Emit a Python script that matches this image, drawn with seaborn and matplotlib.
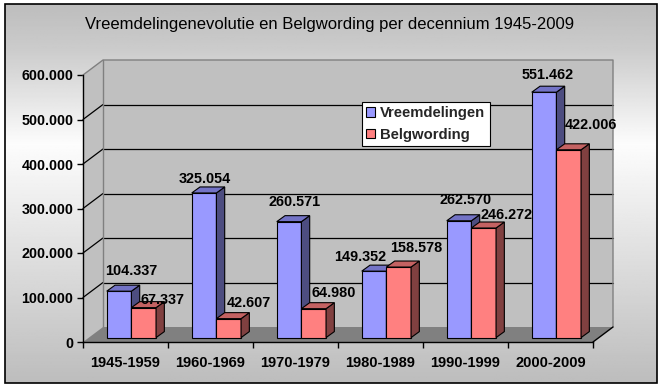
import numpy as np
import pandas as pd
import matplotlib
matplotlib.use("Agg")
import matplotlib.pyplot as plt
import seaborn as sns
from matplotlib.transforms import offset_copy
from matplotlib.patches import Polygon, Rectangle, Patch

# ---------------- data ----------------
periodes = ["1945-1959", "1960-1969", "1970-1979", "1980-1989", "1990-1999", "2000-2009"]
vreemdelingen = [104337, 325054, 260571, 149352, 262570, 551462]
belgwording = [67337, 42607, 64980, 158578, 246272, 422006]
reeksen = ["Vreemdelingen", "Belgwording"]
y_ticks = [0, 100000, 200000, 300000, 400000, 500000, 600000]
y_tick_labels = ["0", "100.000", "200.000", "300.000", "400.000", "500.000", "600.000"]
titel = "Vreemdelingenevolutie en Belgwording per decennium 1945-2009"

# label placement nudges (pixels: right, up) relative to each bar's top centre
label_nudge_blue = [(12, 20), (1, 14), (5, 20), (-14, 14), (6, 21), (4, 17)]
label_nudge_red = [(19, 8), (20, 16), (20, 16), (18, 19), (23, 13), (22, 25)]


def fmt(v):
    return f"{v:,}".replace(",", ".")


df = pd.DataFrame({
    "periode": periodes * 2,
    "aantal": vreemdelingen + belgwording,
    "reeks": [reeksen[0]] * len(periodes) + [reeksen[1]] * len(periodes),
})

# ---------------- style ----------------
sns.set_theme(style="white")
plt.rcParams["font.family"] = ["Liberation Sans", "DejaVu Sans"]

W, H = 663, 389
fig = plt.figure(figsize=(W / 100, H / 100), dpi=100, facecolor="white")

# background gradient inside border
bg = fig.add_axes([0, 0, 1, 1], zorder=-10)
bg.set_xlim(0, W)
bg.set_ylim(H, 0)
bg.axis("off")
yy = np.linspace(0, 1, 300)
prof = np.interp(yy, [0, 0.12, 0.37, 0.6, 1.0], [0.74, 0.80, 0.99, 0.90, 0.74])
grad = np.repeat(prof[:, None], 2, axis=1)
bg.imshow(grad, cmap="gray", vmin=0, vmax=1, extent=(5, 657, 383, 4), aspect="auto")
bg.add_patch(Rectangle((5, 4), 652, 379, fill=False, ec="black", lw=1.2))

blue, red = "#9999ff", "#ff8080"
blue_top, blue_side = "#7373c6", "#4d4d80"
red_top, red_side = "#c46262", "#804040"

# front plane axes
ax = fig.add_axes([83 / W, 1 - 342 / H, 510 / W, 267 / H])
ax.set_facecolor("none")

sns.barplot(data=df, x="periode", y="aantal", hue="reeks", order=periodes,
            hue_order=reeksen, palette=[blue, red], saturation=1, width=0.58,
            gap=0, edgecolor="black", linewidth=0.8, errorbar=None,
            legend=False, ax=ax)
ax.set_xlim(-0.5, len(periodes) - 0.5)
ax.set_ylim(0, 600000)

ux = (len(periodes)) / ax.bbox.width      # data units per pixel (x)
uy = 600000 / ax.bbox.height               # data units per pixel (y)

# walls
wdx, wdy = 20 * ux, 15 * uy
x0, x1 = -0.5, len(periodes) - 0.5
ax.add_patch(Rectangle((x0 + wdx, wdy), x1 - x0, 600000, fc="#c0c0c0", ec="none",
                       zorder=0.5, clip_on=False))
ax.add_patch(Polygon([(x0, 0), (x0, 600000), (x0 + wdx, 600000 + wdy), (x0 + wdx, wdy)],
                     closed=True, fc="#c0c0c0", ec="none", zorder=0.5, clip_on=False))
ax.add_patch(Polygon([(x0, 0), (x1, 0), (x1 + wdx, wdy), (x0 + wdx, wdy)],
                     closed=True, fc="#808080", ec="none", zorder=0.6, clip_on=False))
for v in y_ticks[1:-1]:
    ax.plot([x0 + wdx, x1 + wdx], [v + wdy, v + wdy], color="black", lw=0.9,
            zorder=0.7, clip_on=False)
    ax.plot([x0, x0 + wdx], [v, v + wdy], color="black", lw=0.9, zorder=0.7, clip_on=False)
edge = "#808080"
top = y_ticks[-1]
ax.plot([x0, x0 + wdx, x1 + wdx, x1 + wdx], [top, top + wdy, top + wdy, wdy],
        color=edge, lw=1, zorder=0.7, clip_on=False)
ax.plot([x0 + wdx, x0 + wdx], [wdy, top + wdy], color=edge, lw=1, zorder=0.7, clip_on=False)
ax.plot([x1, x1 + wdx], [0, wdy], color="black", lw=1, zorder=0.8, clip_on=False)

# 3D bars
bar_dx, bar_dy = 5.9, 4.4
bar_tr = offset_copy(ax.transData, fig=fig, x=bar_dx, y=bar_dy, units="dots")
ddx, ddy = 8.3 * ux, 6 * uy
n = len(periodes)
for i, p in enumerate(ax.patches[: 2 * n]):
    series = 0 if i < n else 1
    k = i % n
    z = 3 + series
    p.set_transform(bar_tr)
    p.set_zorder(z)
    p.set_clip_on(False)
    px, pw, ph = p.get_x(), p.get_width(), p.get_height()
    tcol, scol = (blue_top, blue_side) if series == 0 else (red_top, red_side)
    side = Polygon([(px + pw, 0), (px + pw, ph), (px + pw + ddx, ph + ddy), (px + pw + ddx, ddy)],
                   closed=True, fc=scol, ec="black", lw=0.8, transform=bar_tr,
                   zorder=z, clip_on=False)
    topf = Polygon([(px, ph), (px + pw, ph), (px + pw + ddx, ph + ddy), (px + ddx, ph + ddy)],
                   closed=True, fc=tcol, ec="black", lw=0.8, transform=bar_tr,
                   zorder=z, clip_on=False)
    ax.add_patch(side)
    ax.add_patch(topf)
    # data label
    off = label_nudge_blue[k] if series == 0 else label_nudge_red[k]
    ltr = offset_copy(ax.transData, fig=fig, x=bar_dx + off[0], y=bar_dy + off[1], units="dots")
    ax.text(px + pw / 2, ph, fmt(int(round(ph))), transform=ltr, ha="center", va="center",
            fontsize=10.4, fontweight="bold", color="black", zorder=6, clip_on=False)

# axes lines & ticks
for s in ["top", "right"]:
    ax.spines[s].set_visible(False)
for s in ["left", "bottom"]:
    ax.spines[s].set_visible(True)
    ax.spines[s].set_color("black")
    ax.spines[s].set_linewidth(1)
    ax.spines[s].set_zorder(5)
ax.set_yticks(y_ticks)
ax.set_yticklabels(y_tick_labels, fontsize=10.3, fontweight="bold")
ax.set_xticks(range(n))
ax.set_xticklabels(periodes, fontsize=10.5, fontweight="bold")
ax.set_xticks(np.arange(-0.5, n, 1.0), minor=True)
ax.tick_params(axis="y", which="major", left=True, length=4, width=1, color="black",
               direction="out", pad=3, labelcolor="black")
ax.tick_params(axis="x", which="major", bottom=True, length=0, pad=10, labelcolor="black")
ax.tick_params(axis="x", which="minor", bottom=True, length=4, width=1, color="black",
               direction="out")
ax.set_xlabel("")
ax.set_ylabel("")

# title
fig.text(330 / W, 1 - 24 / H, titel, ha="center", va="center", fontsize=12, color="black")

# legend
handles = [Patch(fc=blue, ec="black", lw=0.8), Patch(fc=red, ec="black", lw=0.8)]
leg = fig.legend(handles, reeksen, loc="upper left", bbox_to_anchor=(361.7 / W, 1 - 101.7 / H),
                 bbox_transform=fig.transFigure, frameon=True, fancybox=False,
                 edgecolor="black", facecolor="white", framealpha=1,
                 prop={"size": 10.7, "weight": "bold"}, handlelength=0.6,
                 handleheight=0.6, handletextpad=0.35, borderpad=0.3,
                 labelspacing=0.5, borderaxespad=0)
leg.get_frame().set_linewidth(0.8)
leg.set_zorder(20)

fig.savefig("out.png", dpi=100)
